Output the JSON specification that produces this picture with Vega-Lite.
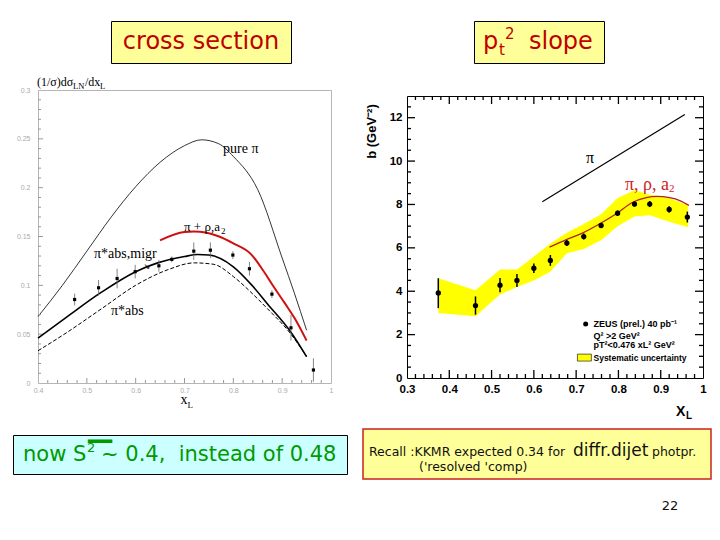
{
  "$schema": "https://vega.github.io/schema/vega-lite/v6.json",
  "background": "white",
  "padding": {"left": 12, "top": 20, "right": 0, "bottom": 0},
  "config": {"view": {"stroke": null}, "axis": {"grid": false, "labelOverlap": false}},
  "datasets": {
    "xsec_curves": [
      {"curve": "pure", "x": 0.40, "y": 0.068}, {"curve": "pure", "x": 0.45, "y": 0.100}, {"curve": "pure", "x": 0.50, "y": 0.135},
      {"curve": "pure", "x": 0.55, "y": 0.170}, {"curve": "pure", "x": 0.60, "y": 0.201}, {"curve": "pure", "x": 0.65, "y": 0.226},
      {"curve": "pure", "x": 0.70, "y": 0.243}, {"curve": "pure", "x": 0.735, "y": 0.249}, {"curve": "pure", "x": 0.77, "y": 0.245},
      {"curve": "pure", "x": 0.80, "y": 0.232}, {"curve": "pure", "x": 0.85, "y": 0.198}, {"curve": "pure", "x": 0.90, "y": 0.128},
      {"curve": "pure", "x": 0.925, "y": 0.092}, {"curve": "pure", "x": 0.95, "y": 0.054},
      {"curve": "migr", "x": 0.40, "y": 0.046}, {"curve": "migr", "x": 0.46, "y": 0.068}, {"curve": "migr", "x": 0.53, "y": 0.093},
      {"curve": "migr", "x": 0.60, "y": 0.114}, {"curve": "migr", "x": 0.645, "y": 0.123}, {"curve": "migr", "x": 0.70, "y": 0.1295},
      {"curve": "migr", "x": 0.727, "y": 0.1315}, {"curve": "migr", "x": 0.75, "y": 0.131}, {"curve": "migr", "x": 0.80, "y": 0.119},
      {"curve": "migr", "x": 0.84, "y": 0.099}, {"curve": "migr", "x": 0.87, "y": 0.081}, {"curve": "migr", "x": 0.918, "y": 0.052},
      {"curve": "migr", "x": 0.95, "y": 0.027},
      {"curve": "abs", "x": 0.40, "y": 0.033}, {"curve": "abs", "x": 0.46, "y": 0.052}, {"curve": "abs", "x": 0.53, "y": 0.076},
      {"curve": "abs", "x": 0.60, "y": 0.100}, {"curve": "abs", "x": 0.666, "y": 0.116}, {"curve": "abs", "x": 0.72, "y": 0.123},
      {"curve": "abs", "x": 0.76, "y": 0.1215}, {"curve": "abs", "x": 0.80, "y": 0.109}, {"curve": "abs", "x": 0.84, "y": 0.091},
      {"curve": "abs", "x": 0.87, "y": 0.076}, {"curve": "abs", "x": 0.918, "y": 0.050}, {"curve": "abs", "x": 0.95, "y": 0.027},
      {"curve": "rho", "x": 0.65, "y": 0.146}, {"curve": "rho", "x": 0.70, "y": 0.1545}, {"curve": "rho", "x": 0.72, "y": 0.155},
      {"curve": "rho", "x": 0.768, "y": 0.1505}, {"curve": "rho", "x": 0.80, "y": 0.143}, {"curve": "rho", "x": 0.836, "y": 0.132},
      {"curve": "rho", "x": 0.86, "y": 0.116}, {"curve": "rho", "x": 0.884, "y": 0.0975}, {"curve": "rho", "x": 0.905, "y": 0.082},
      {"curve": "rho", "x": 0.925, "y": 0.0667}, {"curve": "rho", "x": 0.95, "y": 0.0434}
    ],
    "xsec_points": [
      {"x": 0.475, "y": 0.0855, "lo": 0.0795, "hi": 0.0915},
      {"x": 0.524, "y": 0.0975, "lo": 0.0895, "hi": 0.1055},
      {"x": 0.562, "y": 0.107, "lo": 0.097, "hi": 0.117},
      {"x": 0.599, "y": 0.114, "lo": 0.107, "hi": 0.121},
      {"x": 0.6475, "y": 0.120, "lo": 0.114, "hi": 0.126},
      {"x": 0.674, "y": 0.1266, "lo": 0.1236, "hi": 0.1296},
      {"x": 0.719, "y": 0.135, "lo": 0.126, "hi": 0.144},
      {"x": 0.753, "y": 0.136, "lo": 0.128, "hi": 0.144},
      {"x": 0.799, "y": 0.131, "lo": 0.127, "hi": 0.135},
      {"x": 0.833, "y": 0.117, "lo": 0.110, "hi": 0.124},
      {"x": 0.879, "y": 0.091, "lo": 0.087, "hi": 0.095},
      {"x": 0.918, "y": 0.0565, "lo": 0.0435, "hi": 0.0695},
      {"x": 0.964, "y": 0.0133, "lo": 0.0013, "hi": 0.0253}
    ],
    "xsec_xmaj": [{"v": 0.5}, {"v": 0.6}, {"v": 0.7}, {"v": 0.8}, {"v": 0.9}],
    "xsec_xmin": [{"v": 0.42}, {"v": 0.44}, {"v": 0.46}, {"v": 0.48}, {"v": 0.52}, {"v": 0.54}, {"v": 0.56}, {"v": 0.58},
      {"v": 0.62}, {"v": 0.64}, {"v": 0.66}, {"v": 0.68}, {"v": 0.72}, {"v": 0.74}, {"v": 0.76}, {"v": 0.78},
      {"v": 0.82}, {"v": 0.84}, {"v": 0.86}, {"v": 0.88}, {"v": 0.92}, {"v": 0.94}, {"v": 0.96}, {"v": 0.98}],
    "xsec_ymaj": [{"v": 0.05}, {"v": 0.1}, {"v": 0.15}, {"v": 0.2}, {"v": 0.25}],
    "xsec_ymin": [{"v": 0.01}, {"v": 0.02}, {"v": 0.03}, {"v": 0.04}, {"v": 0.06}, {"v": 0.07}, {"v": 0.08}, {"v": 0.09},
      {"v": 0.11}, {"v": 0.12}, {"v": 0.13}, {"v": 0.14}, {"v": 0.16}, {"v": 0.17}, {"v": 0.18}, {"v": 0.19},
      {"v": 0.21}, {"v": 0.22}, {"v": 0.23}, {"v": 0.24}, {"v": 0.26}, {"v": 0.27}, {"v": 0.28}, {"v": 0.29}],
    "slope_xmaj": [{"v": 0.4}, {"v": 0.5}, {"v": 0.6}, {"v": 0.7}, {"v": 0.8}, {"v": 0.9}],
    "slope_xmin": [{"v": 0.32}, {"v": 0.34}, {"v": 0.36}, {"v": 0.38}, {"v": 0.42}, {"v": 0.44}, {"v": 0.46}, {"v": 0.48},
      {"v": 0.52}, {"v": 0.54}, {"v": 0.56}, {"v": 0.58}, {"v": 0.62}, {"v": 0.64}, {"v": 0.66}, {"v": 0.68},
      {"v": 0.72}, {"v": 0.74}, {"v": 0.76}, {"v": 0.78}, {"v": 0.82}, {"v": 0.84}, {"v": 0.86}, {"v": 0.88},
      {"v": 0.92}, {"v": 0.94}, {"v": 0.96}, {"v": 0.98}],
    "slope_ymaj": [{"v": 2}, {"v": 4}, {"v": 6}, {"v": 8}, {"v": 10}, {"v": 12}],
    "slope_ymin": [{"v": 0.5}, {"v": 1}, {"v": 1.5}, {"v": 2.5}, {"v": 3}, {"v": 3.5}, {"v": 4.5}, {"v": 5}, {"v": 5.5},
      {"v": 6.5}, {"v": 7}, {"v": 7.5}, {"v": 8.5}, {"v": 9}, {"v": 9.5}, {"v": 10.5}, {"v": 11}, {"v": 11.5}, {"v": 12.5}],
    "slope_points": [
      {"x": 0.374, "b": 3.92, "lo": 3.22, "hi": 4.60},
      {"x": 0.462, "b": 3.34, "lo": 2.92, "hi": 3.76},
      {"x": 0.52, "b": 4.28, "lo": 3.95, "hi": 4.61},
      {"x": 0.56, "b": 4.50, "lo": 4.20, "hi": 4.80},
      {"x": 0.60, "b": 5.06, "lo": 4.84, "hi": 5.28},
      {"x": 0.639, "b": 5.42, "lo": 5.17, "hi": 5.67},
      {"x": 0.678, "b": 6.22, "lo": 6.08, "hi": 6.36},
      {"x": 0.718, "b": 6.52, "lo": 6.38, "hi": 6.66},
      {"x": 0.759, "b": 7.03, "lo": 6.91, "hi": 7.15},
      {"x": 0.798, "b": 7.60, "lo": 7.48, "hi": 7.72},
      {"x": 0.838, "b": 8.02, "lo": 7.90, "hi": 8.14},
      {"x": 0.874, "b": 8.02, "lo": 7.88, "hi": 8.16},
      {"x": 0.92, "b": 7.77, "lo": 7.62, "hi": 7.92},
      {"x": 0.963, "b": 7.42, "lo": 7.17, "hi": 7.67}
    ],
    "slope_band": [
      {"x": 0.374, "lo": 3.0, "hi": 4.6},
      {"x": 0.462, "lo": 2.85, "hi": 4.05},
      {"x": 0.52, "lo": 3.85, "hi": 5.0},
      {"x": 0.56, "lo": 4.2, "hi": 5.0},
      {"x": 0.60, "lo": 4.5, "hi": 5.6},
      {"x": 0.639, "lo": 4.9, "hi": 6.2},
      {"x": 0.678, "lo": 5.75, "hi": 6.7},
      {"x": 0.718, "lo": 5.95, "hi": 7.1},
      {"x": 0.759, "lo": 6.35, "hi": 7.55},
      {"x": 0.798, "lo": 7.0, "hi": 8.3},
      {"x": 0.838, "lo": 7.45, "hi": 8.65},
      {"x": 0.874, "lo": 7.5, "hi": 8.45},
      {"x": 0.92, "lo": 7.2, "hi": 8.3},
      {"x": 0.965, "lo": 6.95, "hi": 7.95}
    ],
    "slope_pi": [{"x": 0.62, "b": 8.12}, {"x": 0.957, "b": 12.15}],
    "slope_model": [
      {"x": 0.637, "b": 6.03}, {"x": 0.677, "b": 6.38}, {"x": 0.716, "b": 6.69}, {"x": 0.756, "b": 7.11},
      {"x": 0.795, "b": 7.57}, {"x": 0.834, "b": 8.10}, {"x": 0.866, "b": 8.31}, {"x": 0.89, "b": 8.37},
      {"x": 0.921, "b": 8.31}, {"x": 0.945, "b": 8.18}, {"x": 0.967, "b": 7.95}
    ]
  },
  "spacing": 0,
  "bounds": "flush",
  "vconcat": [
    {
      "spacing": 0, "bounds": "flush",
      "hconcat": [
        {"width": 98, "height": 0, "data": {"values": [{}]}, "mark": {"type": "text", "text": ""}},
        {"width": 180, "height": 42, "view": {"fill": "#ffff99", "stroke": "#000000", "strokeWidth": 1},
         "data": {"values": [{}]},
         "mark": {"type": "text", "text": "cross section", "font": "DejaVu Sans", "fontSize": 24, "color": "#c00000"}},
        {"width": 183, "height": 0, "data": {"values": [{}]}, "mark": {"type": "text", "text": ""}},
        {"width": 130, "height": 42, "view": {"fill": "#ffff99", "stroke": "#000000", "strokeWidth": 1},
         "data": {"values": [{}]},
         "layer": [
           {"mark": {"type": "text", "text": "p", "align": "left", "dx": -56, "font": "DejaVu Sans", "fontSize": 24, "color": "#c00000"}},
           {"mark": {"type": "text", "text": "t", "align": "left", "dx": -40, "dy": 8, "font": "DejaVu Sans", "fontSize": 15, "color": "#c00000"}},
           {"mark": {"type": "text", "text": "2", "align": "left", "dx": -34, "dy": -8, "font": "DejaVu Sans", "fontSize": 15, "color": "#c00000"}},
           {"mark": {"type": "text", "text": "slope", "align": "left", "dx": -10, "font": "DejaVu Sans", "fontSize": 24, "color": "#c00000"}}
         ]}
      ]
    },
    {"width": 1, "height": 69, "data": {"values": [{}]}, "mark": {"type": "text", "text": ""}},
    {
      "spacing": 0, "bounds": "flush",
      "hconcat": [
        {"width": 25, "height": 0, "data": {"values": [{}]}, "mark": {"type": "text", "text": ""}},
        {
          "width": 293, "height": 293,
          "view": {"stroke": "#b5b5b5", "strokeWidth": 1},
          "layer": [
            {
              "data": {"name": "xsec_curves"},
              "transform": [{"filter": "datum.curve == 'pure'"}],
              "mark": {"type": "line", "color": "#000000", "strokeWidth": 0.8, "interpolate": "monotone"},
              "encoding": {
                "x": {"field": "x", "type": "quantitative", "scale": {"domain": [0.4, 1], "nice": false, "zero": false},
                  "axis": {"orient": "bottom", "values": [0.4, 0.5, 0.6, 0.7, 0.8, 0.9, 1], "format": "~g",
                    "title": null, "domain": false, "ticks": false,
                    "labelColor": "#aaaaaa", "labelFont": "Liberation Sans", "labelFontSize": 7, "labelPadding": 3,
                    "labelFlush": false, "labelOverlap": false}},
                "y": {"field": "y", "type": "quantitative", "scale": {"domain": [0, 0.3], "nice": false, "zero": false},
                  "axis": {"orient": "left", "values": [0, 0.05, 0.1, 0.15, 0.2, 0.25, 0.3], "format": "~g",
                    "title": null, "domain": false, "ticks": false,
                    "labelColor": "#aaaaaa", "labelFont": "Liberation Sans", "labelFontSize": 7, "labelPadding": 8,
                    "labelFlush": false, "labelOverlap": false}}
              }
            },
            {
              "data": {"name": "xsec_xmaj"},
              "mark": {"type": "tick", "orient": "vertical", "size": 10, "thickness": 1, "color": "#999999", "opacity": 1, "clip": true},
              "encoding": {"x": {"field": "v", "type": "quantitative"}, "y": {"datum": 0, "type": "quantitative"}}
            },
            {
              "data": {"name": "xsec_xmin"},
              "mark": {"type": "tick", "orient": "vertical", "size": 6, "thickness": 1, "color": "#999999", "opacity": 1, "clip": true},
              "encoding": {"x": {"field": "v", "type": "quantitative"}, "y": {"datum": 0, "type": "quantitative"}}
            },
            {
              "data": {"name": "xsec_ymaj"},
              "mark": {"type": "tick", "orient": "horizontal", "size": 10, "thickness": 1, "color": "#999999", "opacity": 1, "clip": true},
              "encoding": {"y": {"field": "v", "type": "quantitative"}, "x": {"datum": 0.4, "type": "quantitative"}}
            },
            {
              "data": {"name": "xsec_ymin"},
              "mark": {"type": "tick", "orient": "horizontal", "size": 6, "thickness": 1, "color": "#999999", "opacity": 1, "clip": true},
              "encoding": {"y": {"field": "v", "type": "quantitative"}, "x": {"datum": 0.4, "type": "quantitative"}}
            },
            {
              "data": {"name": "xsec_curves"},
              "transform": [{"filter": "datum.curve == 'migr'"}],
              "mark": {"type": "line", "color": "#000000", "strokeWidth": 1.6, "interpolate": "monotone"},
              "encoding": {"x": {"field": "x", "type": "quantitative"}, "y": {"field": "y", "type": "quantitative"}}
            },
            {
              "data": {"name": "xsec_curves"},
              "transform": [{"filter": "datum.curve == 'abs'"}],
              "mark": {"type": "line", "color": "#000000", "strokeWidth": 1, "strokeDash": [4, 2], "interpolate": "monotone"},
              "encoding": {"x": {"field": "x", "type": "quantitative"}, "y": {"field": "y", "type": "quantitative"}}
            },
            {
              "data": {"name": "xsec_curves"},
              "transform": [{"filter": "datum.curve == 'rho'"}],
              "mark": {"type": "line", "color": "#d01010", "strokeWidth": 2, "interpolate": "monotone"},
              "encoding": {"x": {"field": "x", "type": "quantitative"}, "y": {"field": "y", "type": "quantitative"}}
            },
            {
              "data": {"name": "xsec_points"},
              "mark": {"type": "rule", "color": "#666666", "strokeWidth": 0.8},
              "encoding": {"x": {"field": "x", "type": "quantitative"}, "y": {"field": "lo", "type": "quantitative"}, "y2": {"field": "hi"}}
            },
            {
              "data": {"name": "xsec_points"},
              "mark": {"type": "square", "color": "#000000", "filled": true, "size": 10, "opacity": 1},
              "encoding": {"x": {"field": "x", "type": "quantitative"}, "y": {"field": "y", "type": "quantitative"}}
            },
            {
              "data": {"values": [{}]},
              "mark": {"type": "text", "text": "pure π", "align": "left", "baseline": "middle", "font": "Liberation Serif", "fontSize": 14, "color": "#000000"},
              "encoding": {"x": {"datum": 0.779, "type": "quantitative"}, "y": {"datum": 0.2396, "type": "quantitative"}}
            },
            {
              "data": {"values": [{}]},
              "layer": [
                {"mark": {"type": "text", "text": "π + ρ,a", "align": "left", "baseline": "middle", "font": "Liberation Serif", "fontSize": 13, "color": "#000000"}},
                {"mark": {"type": "text", "text": "2", "align": "left", "baseline": "middle", "dx": 37, "dy": 4, "font": "Liberation Serif", "fontSize": 9, "color": "#000000"}}
              ],
              "encoding": {"x": {"datum": 0.699, "type": "quantitative"}, "y": {"datum": 0.1597, "type": "quantitative"}}
            },
            {
              "data": {"values": [{}]},
              "mark": {"type": "text", "text": "π*abs,migr", "align": "left", "baseline": "middle", "font": "Liberation Serif", "fontSize": 14, "color": "#000000"},
              "encoding": {"x": {"datum": 0.5147, "type": "quantitative"}, "y": {"datum": 0.132, "type": "quantitative"}}
            },
            {
              "data": {"values": [{}]},
              "mark": {"type": "text", "text": "↘", "align": "center", "baseline": "middle", "font": "DejaVu Sans", "fontSize": 8, "color": "#000000"},
              "encoding": {"x": {"datum": 0.623, "type": "quantitative"}, "y": {"datum": 0.1185, "type": "quantitative"}}
            },
            {
              "data": {"values": [{}]},
              "mark": {"type": "text", "text": "π*abs", "align": "left", "baseline": "middle", "font": "Liberation Serif", "fontSize": 14, "color": "#000000"},
              "encoding": {"x": {"datum": 0.5495, "type": "quantitative"}, "y": {"datum": 0.0737, "type": "quantitative"}}
            },
            {
              "data": {"values": [{}]},
              "layer": [
                {"mark": {"type": "text", "text": "(1/σ)dσ", "align": "left", "baseline": "alphabetic", "dx": -1, "dy": -4, "font": "Liberation Serif", "fontSize": 12, "color": "#000000"}},
                {"mark": {"type": "text", "text": "LN", "align": "left", "baseline": "alphabetic", "dx": 35, "dy": -1, "font": "Liberation Serif", "fontSize": 8.5, "color": "#000000"}},
                {"mark": {"type": "text", "text": "/dx", "align": "left", "baseline": "alphabetic", "dx": 47, "dy": -4, "font": "Liberation Serif", "fontSize": 12, "color": "#000000"}},
                {"mark": {"type": "text", "text": "L", "align": "left", "baseline": "alphabetic", "dx": 62, "dy": -1, "font": "Liberation Serif", "fontSize": 8.5, "color": "#000000"}}
              ],
              "encoding": {"x": {"datum": 0.4, "type": "quantitative"}, "y": {"datum": 0.3, "type": "quantitative"}}
            },
            {
              "data": {"values": [{}]},
              "layer": [
                {"mark": {"type": "text", "text": "x", "align": "left", "baseline": "alphabetic", "dx": -4, "dy": 21, "font": "Liberation Serif", "fontSize": 14, "color": "#000000"}},
                {"mark": {"type": "text", "text": "L", "align": "left", "baseline": "alphabetic", "dx": 3, "dy": 25, "font": "Liberation Serif", "fontSize": 9, "color": "#000000"}}
              ],
              "encoding": {"x": {"datum": 0.7, "type": "quantitative"}, "y": {"datum": 0, "type": "quantitative"}}
            }
          ]
        },
        {"width": 76, "height": 0, "data": {"values": [{}]}, "mark": {"type": "text", "text": ""}},
        {
          "spacing": 0, "bounds": "flush",
          "vconcat": [
            {"width": 1, "height": 6, "data": {"values": [{}]}, "mark": {"type": "text", "text": ""}},
            {
              "width": 296, "height": 282,
              "view": {"stroke": "#000000", "strokeWidth": 1},
              "layer": [
                {
                  "data": {"name": "slope_band"},
                  "mark": {"type": "area", "color": "#ffff00", "opacity": 1, "interpolate": "linear"},
                  "encoding": {
                    "x": {"field": "x", "type": "quantitative", "scale": {"domain": [0.3, 1], "nice": false, "zero": false},
                      "axis": {"orient": "bottom", "values": [0.3, 0.4, 0.5, 0.6, 0.7, 0.8, 0.9, 1], "format": "~g",
                        "title": null, "domain": false, "ticks": false,
                        "labelColor": "#000000", "labelFont": "Liberation Sans", "labelFontWeight": "bold", "labelFontSize": 11.5, "labelPadding": 5,
                        "labelFlush": false, "labelOverlap": false}},
                    "y": {"field": "lo", "type": "quantitative", "scale": {"domain": [0, 13], "nice": false, "zero": false},
                      "axis": {"orient": "left", "values": [0, 2, 4, 6, 8, 10, 12], "format": "~g",
                        "title": "b (GeV⁻²)", "titleFont": "Liberation Sans", "titleFontWeight": "bold", "titleFontSize": 13, "titleColor": "#000000",
                        "titleAngle": -90, "titleX": -36, "titleY": 35, "titleAlign": "center", "titleBaseline": "middle",
                        "domain": false, "ticks": false,
                        "labelColor": "#000000", "labelFont": "Liberation Sans", "labelFontWeight": "bold", "labelFontSize": 11.5, "labelPadding": 5,
                        "labelFlush": false, "labelOverlap": false}},
                    "y2": {"field": "hi"}
                  }
                },
                {
                  "data": {"name": "slope_xmaj"},
                  "mark": {"type": "tick", "orient": "vertical", "size": 16, "thickness": 1.3, "color": "#000000", "opacity": 1, "clip": true},
                  "encoding": {"x": {"field": "v", "type": "quantitative"}, "y": {"datum": 0, "type": "quantitative"}}
                },
                {
                  "data": {"name": "slope_xmaj"},
                  "mark": {"type": "tick", "orient": "vertical", "size": 16, "thickness": 1.3, "color": "#000000", "opacity": 1, "clip": true},
                  "encoding": {"x": {"field": "v", "type": "quantitative"}, "y": {"datum": 13, "type": "quantitative"}}
                },
                {
                  "data": {"name": "slope_xmin"},
                  "mark": {"type": "tick", "orient": "vertical", "size": 8, "thickness": 1.3, "color": "#000000", "opacity": 1, "clip": true},
                  "encoding": {"x": {"field": "v", "type": "quantitative"}, "y": {"datum": 0, "type": "quantitative"}}
                },
                {
                  "data": {"name": "slope_xmin"},
                  "mark": {"type": "tick", "orient": "vertical", "size": 8, "thickness": 1.3, "color": "#000000", "opacity": 1, "clip": true},
                  "encoding": {"x": {"field": "v", "type": "quantitative"}, "y": {"datum": 13, "type": "quantitative"}}
                },
                {
                  "data": {"name": "slope_ymaj"},
                  "mark": {"type": "tick", "orient": "horizontal", "size": 16, "thickness": 1.3, "color": "#000000", "opacity": 1, "clip": true},
                  "encoding": {"y": {"field": "v", "type": "quantitative"}, "x": {"datum": 0.3, "type": "quantitative"}}
                },
                {
                  "data": {"name": "slope_ymaj"},
                  "mark": {"type": "tick", "orient": "horizontal", "size": 16, "thickness": 1.3, "color": "#000000", "opacity": 1, "clip": true},
                  "encoding": {"y": {"field": "v", "type": "quantitative"}, "x": {"datum": 1, "type": "quantitative"}}
                },
                {
                  "data": {"name": "slope_ymin"},
                  "mark": {"type": "tick", "orient": "horizontal", "size": 8, "thickness": 1.3, "color": "#000000", "opacity": 1, "clip": true},
                  "encoding": {"y": {"field": "v", "type": "quantitative"}, "x": {"datum": 0.3, "type": "quantitative"}}
                },
                {
                  "data": {"name": "slope_ymin"},
                  "mark": {"type": "tick", "orient": "horizontal", "size": 8, "thickness": 1.3, "color": "#000000", "opacity": 1, "clip": true},
                  "encoding": {"y": {"field": "v", "type": "quantitative"}, "x": {"datum": 1, "type": "quantitative"}}
                },
                {
                  "data": {"name": "slope_model"},
                  "mark": {"type": "line", "color": "#b22020", "strokeWidth": 1.3, "interpolate": "monotone"},
                  "encoding": {"x": {"field": "x", "type": "quantitative"}, "y": {"field": "b", "type": "quantitative"}}
                },
                {
                  "data": {"name": "slope_pi"},
                  "mark": {"type": "line", "color": "#000000", "strokeWidth": 1.2},
                  "encoding": {"x": {"field": "x", "type": "quantitative"}, "y": {"field": "b", "type": "quantitative"}}
                },
                {
                  "data": {"name": "slope_points"},
                  "mark": {"type": "rule", "color": "#000000", "strokeWidth": 1.5},
                  "encoding": {"x": {"field": "x", "type": "quantitative"}, "y": {"field": "lo", "type": "quantitative"}, "y2": {"field": "hi"}}
                },
                {
                  "data": {"name": "slope_points"},
                  "mark": {"type": "circle", "color": "#000000", "size": 28, "opacity": 1},
                  "encoding": {"x": {"field": "x", "type": "quantitative"}, "y": {"field": "b", "type": "quantitative"}}
                },
                {
                  "data": {"values": [{}]},
                  "mark": {"type": "text", "text": "π", "align": "left", "baseline": "middle", "font": "Liberation Serif", "fontSize": 16, "color": "#000000"},
                  "encoding": {"x": {"datum": 0.7233, "type": "quantitative"}, "y": {"datum": 10.15, "type": "quantitative"}}
                },
                {
                  "data": {"values": [{}]},
                  "layer": [
                    {"mark": {"type": "text", "text": "π, ρ, a", "align": "left", "baseline": "middle", "font": "Liberation Serif", "fontSize": 18, "color": "#cc2222"}},
                    {"mark": {"type": "text", "text": "2", "align": "left", "baseline": "middle", "dx": 44, "dy": 4, "font": "Liberation Serif", "fontSize": 11, "color": "#cc2222"}}
                  ],
                  "encoding": {"x": {"datum": 0.8155, "type": "quantitative"}, "y": {"datum": 8.9, "type": "quantitative"}}
                },
                {
                  "data": {"values": [{}]},
                  "mark": {"type": "circle", "color": "#000000", "size": 25, "opacity": 1},
                  "encoding": {"x": {"datum": 0.7225, "type": "quantitative"}, "y": {"datum": 2.49, "type": "quantitative"}}
                },
                {
                  "data": {"values": [{}]},
                  "mark": {"type": "rect", "color": "#ffff00", "stroke": "#000000", "strokeWidth": 0.6},
                  "encoding": {"x": {"datum": 0.703, "type": "quantitative"}, "x2": {"datum": 0.736}, "y": {"datum": 0.78, "type": "quantitative"}, "y2": {"datum": 1.1}}
                },
                {
                  "data": {"values": [{}]},
                  "mark": {"type": "text", "text": "ZEUS (prel.) 40 pb⁻¹", "align": "left", "baseline": "middle", "font": "Liberation Sans", "fontWeight": "bold", "fontSize": 9, "color": "#000000"},
                  "encoding": {"x": {"datum": 0.741, "type": "quantitative"}, "y": {"datum": 2.49, "type": "quantitative"}}
                },
                {
                  "data": {"values": [{}]},
                  "mark": {"type": "text", "text": "Q² >2 GeV²", "align": "left", "baseline": "middle", "font": "Liberation Sans", "fontWeight": "bold", "fontSize": 9, "color": "#000000"},
                  "encoding": {"x": {"datum": 0.741, "type": "quantitative"}, "y": {"datum": 1.95, "type": "quantitative"}}
                },
                {
                  "data": {"values": [{}]},
                  "mark": {"type": "text", "text": "pT²<0.476 xL² GeV²", "align": "left", "baseline": "middle", "font": "Liberation Sans", "fontWeight": "bold", "fontSize": 9, "color": "#000000"},
                  "encoding": {"x": {"datum": 0.741, "type": "quantitative"}, "y": {"datum": 1.5, "type": "quantitative"}}
                },
                {
                  "data": {"values": [{}]},
                  "mark": {"type": "text", "text": "Systematic uncertainty", "align": "left", "baseline": "middle", "font": "Liberation Sans", "fontWeight": "bold", "fontSize": 8.5, "color": "#000000"},
                  "encoding": {"x": {"datum": 0.741, "type": "quantitative"}, "y": {"datum": 0.93, "type": "quantitative"}}
                },
                {
                  "data": {"values": [{}]},
                  "layer": [
                    {"mark": {"type": "text", "text": "X", "align": "left", "baseline": "alphabetic", "dx": -27, "dy": 38, "font": "Liberation Sans", "fontWeight": "bold", "fontSize": 14, "color": "#000000"}},
                    {"mark": {"type": "text", "text": "L", "align": "left", "baseline": "alphabetic", "dx": -17, "dy": 41, "font": "Liberation Sans", "fontWeight": "bold", "fontSize": 10, "color": "#000000"}}
                  ],
                  "encoding": {"x": {"datum": 1, "type": "quantitative"}, "y": {"datum": 0, "type": "quantitative"}}
                }
              ]
            }
          ]
        }
      ]
    },
    {"width": 1, "height": 339, "data": {"values": [{}]}, "mark": {"type": "text", "text": ""}},
    {
      "spacing": 0, "bounds": "flush",
      "hconcat": [
        {"width": 350, "height": 0, "data": {"values": [{}]}, "mark": {"type": "text", "text": ""}},
        {"width": 348, "height": 50, "view": {"fill": "#ffff99", "stroke": "#cc2222", "strokeWidth": 1.5},
         "data": {"values": [{}]},
         "layer": [
           {"mark": {"type": "text", "text": "Recall :KKMR expected 0.34 for", "align": "left", "dx": -168, "dy": -2, "font": "DejaVu Sans", "fontSize": 12.5, "color": "#111111"}},
           {"mark": {"type": "text", "text": "diffr.dijet", "align": "left", "dx": 36, "dy": -3, "font": "DejaVu Sans", "fontSize": 17, "color": "#111111"}},
           {"mark": {"type": "text", "text": "photpr.", "align": "left", "dx": 115, "dy": -2, "font": "DejaVu Sans", "fontSize": 12.5, "color": "#111111"}},
           {"mark": {"type": "text", "text": "('resolved 'comp)", "align": "left", "dx": -118, "dy": 13, "font": "DejaVu Sans", "fontSize": 12.5, "color": "#111111"}}
         ]}
      ]
    },
    {"width": 1, "height": 6, "data": {"values": [{}]}, "mark": {"type": "text", "text": ""}},
    {"width": 334, "height": 39, "view": {"fill": "#ccffff", "stroke": "#000000", "strokeWidth": 1},
     "data": {"values": [{}]},
     "layer": [
       {"mark": {"type": "text", "text": "now S", "align": "left", "dx": -157, "font": "DejaVu Sans", "fontSize": 21, "color": "#009900"}},
       {"mark": {"type": "text", "text": "2", "align": "left", "dx": -93, "dy": -7, "font": "DejaVu Sans", "fontSize": 13, "color": "#009900"}},
       {"mark": {"type": "text", "text": "~ 0.4,\u00a0 instead of 0.48", "align": "left", "dx": -79, "font": "DejaVu Sans", "fontSize": 21, "color": "#009900"}},
       {"mark": {"type": "text", "text": "━━", "align": "center", "dx": -80, "dy": -13, "font": "DejaVu Sans", "fontSize": 20, "color": "#009900"}}
     ]},
    {"width": 1, "height": 17, "data": {"values": [{}]}, "mark": {"type": "text", "text": ""}},
    {
      "spacing": 0, "bounds": "flush",
      "hconcat": [
        {"width": 637, "height": 0, "data": {"values": [{}]}, "mark": {"type": "text", "text": ""}},
        {"width": 40, "height": 30, "data": {"values": [{}]},
         "mark": {"type": "text", "text": "22", "font": "DejaVu Sans", "fontSize": 13, "color": "#111111"}}
      ]
    }
  ]
}
